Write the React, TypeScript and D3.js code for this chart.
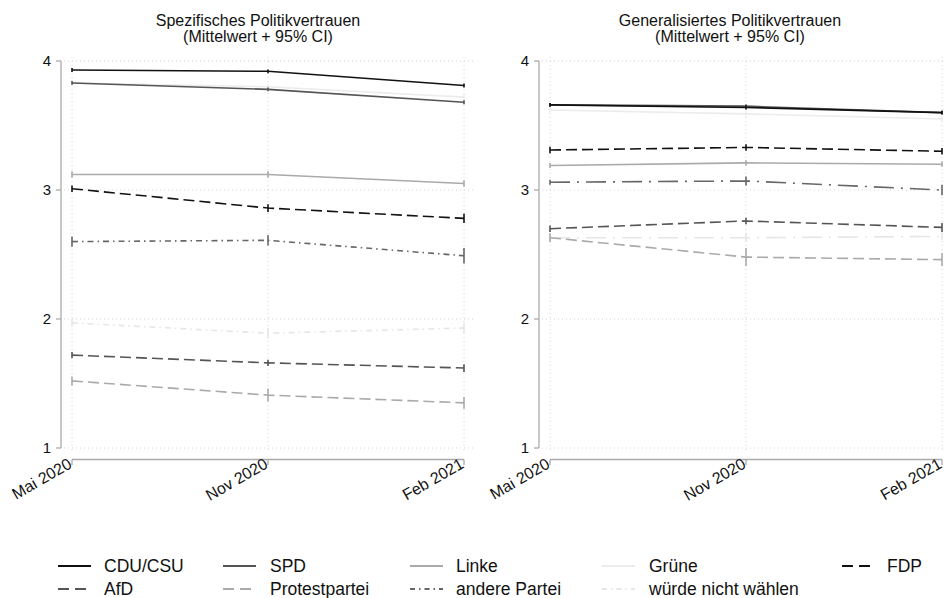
import React from "react";
import * as d3 from "d3";

const waves = ["Mai 2020", "Nov 2020", "Feb 2021"];
const parties = ["CDU/CSU", "SPD", "Linke", "Grüne", "FDP", "AfD", "Protestpartei", "andere Partei", "würde nicht wählen"];
const yTicks = [1, 2, 3, 4];

// Spezifisches Politikvertrauen (means)
const specCDU = [3.93, 3.92, 3.81];
const specSPD = [3.83, 3.78, 3.68];
const specLinke = [3.12, 3.12, 3.05];
const specGruene = [3.83, 3.8, 3.72];
const specFDP = [3.01, 2.86, 2.78];
const specAfD = [1.72, 1.66, 1.62];
const specProtest = [1.52, 1.41, 1.35];
const specAndere = [2.6, 2.61, 2.49];
const specNicht = [1.97, 1.89, 1.93];
// CI half widths
const specCDUci = [0.015, 0.015, 0.015];
const specSPDci = [0.015, 0.015, 0.015];
const specLinkeci = [0.025, 0.025, 0.025];
const specGrueneci = [0.02, 0.02, 0.02];
const specFDPci = [0.025, 0.03, 0.035];
const specAfDci = [0.025, 0.025, 0.03];
const specProtestci = [0.035, 0.05, 0.045];
const specAndereci = [0.04, 0.04, 0.06];
const specNichtci = [0.03, 0.04, 0.04];

// Generalisiertes Politikvertrauen (means)
const genCDU = [3.66, 3.64, 3.6];
const genSPD = [3.66, 3.65, 3.6];
const genLinke = [3.19, 3.21, 3.2];
const genGruene = [3.62, 3.59, 3.55];
const genFDP = [3.31, 3.33, 3.3];
const genAfD = [2.7, 2.76, 2.71];
const genProtest = [2.63, 2.48, 2.46];
const genAndere = [3.06, 3.07, 3.0];
const genNicht = [2.63, 2.63, 2.64];
const genCDUci = [0.015, 0.015, 0.015];
const genSPDci = [0.015, 0.015, 0.015];
const genLinkeci = [0.02, 0.02, 0.02];
const genGrueneci = [0.02, 0.02, 0.02];
const genFDPci = [0.025, 0.025, 0.025];
const genAfDci = [0.025, 0.025, 0.035];
const genProtestci = [0.035, 0.07, 0.05];
const genAndereci = [0.02, 0.035, 0.04];
const genNichtci = [0.02, 0.03, 0.03];

const specMeans = [specCDU, specSPD, specLinke, specGruene, specFDP, specAfD, specProtest, specAndere, specNicht];
const specCIs = [specCDUci, specSPDci, specLinkeci, specGrueneci, specFDPci, specAfDci, specProtestci, specAndereci, specNichtci];
const genMeans = [genCDU, genSPD, genLinke, genGruene, genFDP, genAfD, genProtest, genAndere, genNicht];
const genCIs = [genCDUci, genSPDci, genLinkeci, genGrueneci, genFDPci, genAfDci, genProtestci, genAndereci, genNichtci];

const colors = ["#111", "#555", "#aaa", "#ececec", "#111", "#555", "#aaa", "#666", "#e6e6e6"];
const dashesLeft = [null, null, null, null, "11,5", "11,5", "11,5", "6,4,1.5,4", "6,4,1.5,4"];
const dashesRight = [null, null, null, null, "11,5", "11,5", "11,5", "20,7,2,7", "20,7,2,7"];
const legendDash = [null, null, null, null, "11,6", "11,6", "11,6", "5,4,1.5,4", "5,4,1.5,4"];

const FONT = "'Liberation Sans', Arial, sans-serif";

function Panel({ x0, x1, axisX, title, means, cis, dashes, titleX }) {
  const x = d3.scalePoint().domain(waves).range([x0, x1]).padding(0);
  const y = d3.scaleLinear().domain([1, 4]).range([448, 61]);
  const line = d3.line<number>().x((_, i) => x(waves[i])!).y((v) => y(v));
  const order = [8, 3, 6, 5, 7, 2, 4, 1, 0];
  return (
    <g>
      <text x={titleX} y={26} textAnchor="middle" fontSize={16} fontFamily={FONT} fill="#111">{title}</text>
      <text x={titleX} y={42} textAnchor="middle" fontSize={16} fontFamily={FONT} fill="#111">(Mittelwert + 95% CI)</text>
      {yTicks.map((t) => (
        <line key={"gy" + t} x1={axisX + 3} x2={x1 + 9} y1={y(t)} y2={y(t)} stroke="#d4d4d4" strokeWidth={1} strokeDasharray="1,3" />
      ))}
      {waves.map((w) => (
        <line key={"gx" + w} x1={x(w)} x2={x(w)} y1={y(4) - 4} y2={y(1) + 4} stroke="#d4d4d4" strokeWidth={1} strokeDasharray="1,3" />
      ))}
      <line x1={axisX} x2={axisX} y1={y(4)} y2={y(1)} stroke="#aaa" strokeWidth={1.3} />
      {yTicks.map((t) => (
        <g key={"yt" + t}>
          <line x1={axisX - 5} x2={axisX} y1={y(t)} y2={y(t)} stroke="#aaa" strokeWidth={1.3} />
          <text x={axisX - 10} y={y(t) + 5} textAnchor="end" fontSize={15} fontFamily={FONT} fill="#111">{t}</text>
        </g>
      ))}
      <line x1={x0} x2={x1} y1={459.5} y2={459.5} stroke="#aaa" strokeWidth={1.3} />
      {waves.map((w) => (
        <g key={"xt" + w}>
          <line x1={x(w)} x2={x(w)} y1={459.5} y2={465} stroke="#aaa" strokeWidth={1.3} />
          <text transform={`translate(${x(w)! + 1},${467}) rotate(-30)`} textAnchor="end" fontSize={16} fontFamily={FONT} fill="#111">{w}</text>
        </g>
      ))}
      {order.map((k) => (
        <g key={"s" + k}>
          <path d={line(means[k])!} fill="none" stroke={colors[k]} strokeWidth={1.6} strokeDasharray={dashes[k] ?? undefined} />
          {means[k].map((v, i) => (
            <line key={i} x1={x(waves[i])} x2={x(waves[i])} y1={y(v - cis[k][i])} y2={y(v + cis[k][i])} stroke={colors[k]} strokeWidth={1.6} />
          ))}
        </g>
      ))}
    </g>
  );
}

const legendSymX = [58, 223, 410, 602, 842];
const legendTextX = [104, 270, 456, 649, 887];
const legendRowY = [566, 589];

export default function App() {
  return (
    <svg width={945} height={598} style={{ position: "absolute", left: 0, top: 0, background: "#fff" }}>
      <rect width={945} height={598} fill="#fff" />
      <Panel x0={72} x1={464} axisX={61} titleX={258} title="Spezifisches Politikvertrauen" means={specMeans} cis={specCIs} dashes={dashesLeft} />
      <Panel x0={550} x1={942} axisX={539} titleX={730} title="Generalisiertes Politikvertrauen" means={genMeans} cis={genCIs} dashes={dashesRight} />
      {parties.map((p, k) => {
        const row = k < 5 ? 0 : 1;
        const col = k < 5 ? k : k - 5;
        const yy = legendRowY[row];
        return (
          <g key={"lg" + p}>
            <line x1={legendSymX[col]} x2={legendSymX[col] + 33} y1={yy} y2={yy} stroke={colors[k]} strokeWidth={1.8} strokeDasharray={legendDash[k] ?? undefined} />
            <text x={legendTextX[col]} y={yy + 6} fontSize={17.5} fontFamily={FONT} fill="#111">{p}</text>
          </g>
        );
      })}
    </svg>
  );
}
